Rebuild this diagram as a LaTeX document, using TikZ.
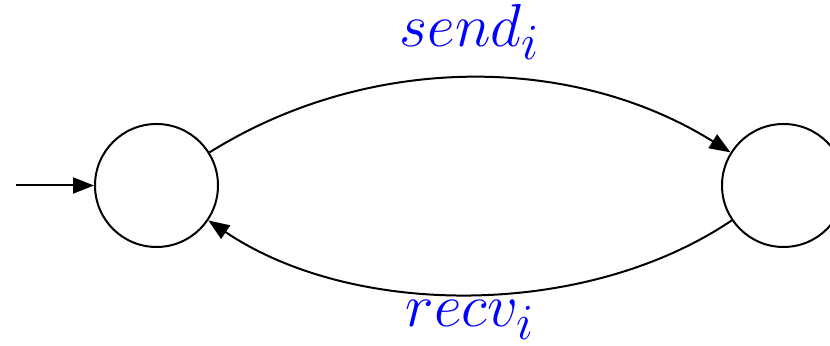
\documentclass[tikz,border=0pt]{standalone}
\usepackage{graphicx}
\usetikzlibrary{arrows.meta}
\begin{document}
\begin{tikzpicture}[x=0.5pt,y=0.5pt,
  statenode/.style={circle,draw,line width=1pt,minimum size=61.5pt,inner sep=0pt},
  trans/.style={line width=1pt,-{Triangle[length=10.5pt,width=8pt]}},
  lbl/.style={text=blue,font=\fontsize{24.88}{30}\selectfont,anchor=base,inner sep=0pt}]
\clip (0,0) rectangle (830,346);
\node[statenode] (L) at (156.5,160.5) {};
\node[statenode] (R) at (783.5,160.5) {};
\coordinate (init) at (16,160.5);
\draw[trans] (init) -- (L);
\draw[trans] (L) to[out=32,in=148,looseness=0.92] (R);
\draw[trans] (R) to[out=214,in=326,looseness=0.86] (L);
\node[lbl] (ls) at (470,299) {\scalebox{1.22}{$send_i$}};
\node[lbl] (lr) at (470,19) {\scalebox{1.22}{$recv_i$}};
\end{tikzpicture}
\end{document}
